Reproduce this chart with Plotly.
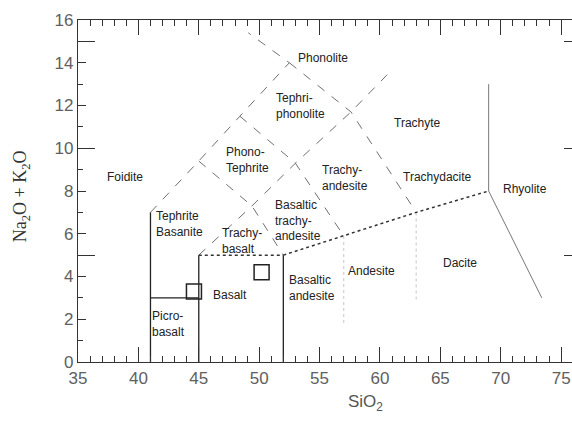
import plotly.graph_objects as go

# Total-alkali vs silica classification fields (SiO2 wt%, Na2O+K2O wt%)
solid_x = [[41, 41], [41, 45], [45, 45], [52, 52]]
solid_y = [[0, 7], [3, 3], [0, 5], [0, 5]]

dotted_x = [[45, 52], [52, 57, 63, 69]]
dotted_y = [[5, 5], [5, 5.9, 7, 8]]

gray_solid_x = [[69, 69], [69, 73.4]]
gray_solid_y = [[8, 13], [8, 3]]

dashed_x = [
    [41, 45, 48.4, 52.5, 49.1],
    [45, 49.4, 52],
    [45, 49.4, 53, 57.6, 60.7],
    [48.4, 53, 57],
    [52.5, 57.6, 63],
]
dashed_y = [
    [7, 9.4, 11.5, 14, 15.4],
    [9.4, 7.3, 5],
    [5, 7.3, 9.3, 11.7, 13.5],
    [11.5, 9.3, 5.9],
    [14, 11.7, 7],
]

faint_x = [[57, 57], [63, 63]]
faint_y = [[5.9, 1.7], [7, 2.8]]

field_names = ["Foidite", "Phonolite", "Tephri-<br>phonolite", "Trachyte",
               "Phono-<br>Tephrite", "Trachy-<br>andesite", "Trachydacite",
               "Rhyolite", "Tephrite<br>Basanite", "Basaltic<br>trachy-<br>andesite",
               "Trachy-<br>basalt", "Basalt", "Picro-<br>basalt",
               "Basaltic<br>andesite", "Andesite", "Dacite"]
field_x = [38.9, 55.3, 53.4, 63.1, 49.0, 57.1, 64.8, 72.0, 43.4, 53.2,
           48.6, 47.6, 42.5, 54.4, 59.3, 66.6]
field_y = [8.64, 14.2, 12.0, 11.2, 9.44, 8.6, 8.64, 8.1, 6.45, 6.6,
           5.65, 3.13, 1.78, 3.46, 4.25, 4.63]

# Samples
sample_sio2 = [44.6, 50.2]
sample_alk = [3.3, 4.2]

x_range = [35, 75.9]
y_range = [0, 16]

fig = go.Figure()


def add_lines(xs, ys, color, width, dash):
    for lx, ly in zip(xs, ys):
        fig.add_trace(go.Scatter(x=lx, y=ly, mode="lines", showlegend=False,
                                 hoverinfo="skip",
                                 line=dict(color=color, width=width, dash=dash)))


add_lines(faint_x, faint_y, "#d0d0d0", 1.2, "dot")
add_lines(dashed_x, dashed_y, "#707070", 1.0, "dash")
add_lines(gray_solid_x, gray_solid_y, "#777777", 1.0, "solid")
add_lines(solid_x, solid_y, "#222222", 1.3, "solid")
add_lines(dotted_x, dotted_y, "#333333", 1.5, "dot")

fig.add_trace(go.Scatter(x=sample_sio2, y=sample_alk, mode="markers",
                         showlegend=False,
                         marker=dict(symbol="square-open", size=15,
                                     color="#222222", line=dict(width=1.5))))

for name, fx, fy in zip(field_names, field_x, field_y):
    fig.add_annotation(x=fx, y=fy, text=name, showarrow=False,
                       font=dict(family="Liberation Sans", size=12, color="#222222"),
                       align="left")

# Extra y axes carrying the long ticks every 5 units (left and right sides)
fig.add_trace(go.Scatter(x=[None], y=[None], yaxis="y2", showlegend=False,
                         hoverinfo="skip"))
fig.add_trace(go.Scatter(x=[None], y=[None], yaxis="y3", showlegend=False,
                         hoverinfo="skip"))

tick_font = dict(family="Liberation Sans", size=17, color="#606060")

fig.update_layout(
    width=572, height=429,
    margin=dict(l=78, r=0, t=20, b=67),
    paper_bgcolor="white", plot_bgcolor="white",
    xaxis=dict(range=x_range, showgrid=False, zeroline=False,
               showline=True, linecolor="#333333", linewidth=1.2, mirror="ticks",
               ticks="inside", tick0=35, dtick=5, ticklen=15, tickcolor="#333333",
               tickwidth=1.2, tickfont=tick_font,
               minor=dict(ticks="inside", dtick=1, ticklen=6,
                          tickcolor="#333333", tickwidth=1)),
    yaxis=dict(range=y_range, showgrid=False, zeroline=False,
               showline=True, linecolor="#333333", linewidth=1.2,
               ticks="inside", tickvals=list(range(0, 17, 2)), ticklen=8,
               tickcolor="#333333", tickwidth=1.2, tickfont=tick_font,
               minor=dict(ticks="inside", dtick=1, ticklen=5,
                          tickcolor="#333333", tickwidth=1)),
    yaxis2=dict(range=y_range, overlaying="y", side="left", showgrid=False,
                zeroline=False, showline=False, showticklabels=False,
                ticks="inside", tickvals=[5, 10, 15], ticklen=17,
                tickcolor="#333333", tickwidth=1.2),
    yaxis3=dict(range=y_range, overlaying="y", side="right", showgrid=False,
                zeroline=False, showline=False, showticklabels=False,
                ticks="inside", tickvals=[5, 10, 15], ticklen=8,
                tickcolor="#333333", tickwidth=1.2),
)

fig.add_annotation(xref="paper", yref="paper", x=0.581, y=-0.12,
                   xanchor="center", yanchor="middle",
                   text="SiO<sub>2</sub>", showarrow=False,
                   font=dict(family="Liberation Sans", size=17, color="#555555"))
fig.add_annotation(xref="paper", yref="paper", x=-0.115, y=0.485,
                   xanchor="center", yanchor="middle", textangle=-90,
                   text="Na<sub>2</sub>O + K<sub>2</sub>O", showarrow=False,
                   font=dict(family="Liberation Serif", size=18, color="#333333"))

fig.write_html("out.html")
